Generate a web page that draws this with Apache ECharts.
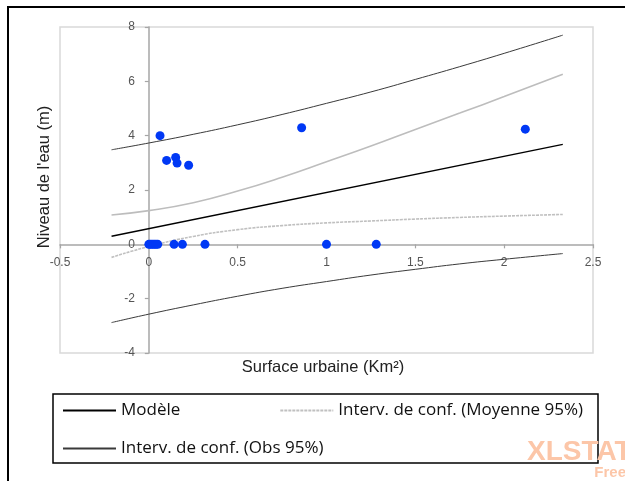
<!DOCTYPE html>
<html>
<head>
<meta charset="utf-8">
<script src="https://cdn.jsdelivr.net/npm/echarts@6/dist/echarts.min.js"></script>
<style>
  html, body { margin: 0; padding: 0; background: #fff; }
  #chart { width: 625px; height: 481px; }
</style>
</head>
<body>
<div id="chart"></div>
<script>
// ---- Data ----
const pointsX = [0, 0.01, 0.02, 0.03, 0.04, 0.05, 0.142, 0.189, 0.316, 1.0, 1.28, 0.063, 0.10, 0.151, 0.159, 0.224, 0.86, 2.119];
const pointsY = [0, 0, 0, 0, 0, 0, 0, 0, 0, 0, 0, 4.0, 3.09, 3.20, 2.99, 2.91, 4.29, 4.24];

const modelX = [-0.21, 2.33];
const modelY = [0.30, 3.68];

const bandX = [-0.21, 0, 0.25, 0.5, 0.75, 1.0, 1.25, 1.5, 1.75, 2.0, 2.33];
const meanUpper = [1.08, 1.24, 1.53, 1.96, 2.47, 3.04, 3.62, 4.23, 4.83, 5.44, 6.26];
const meanLower = [-0.48, -0.08, 0.29, 0.54, 0.69, 0.79, 0.86, 0.93, 0.99, 1.04, 1.10];
const obsUpper = [3.48, 3.73, 4.05, 4.40, 4.78, 5.19, 5.61, 6.07, 6.54, 7.03, 7.70];
const obsLower = [-2.88, -2.57, -2.23, -1.91, -1.62, -1.37, -1.13, -0.92, -0.72, -0.55, -0.34];

const xTicks = { min: -0.5, max: 2.5, interval: 0.5 };
const yTicks = { min: -4, max: 8, interval: 2 };

const nameModel = 'Modèle';
const nameMean = 'Interv. de conf. (Moyenne 95%)';
const nameObs = 'Interv. de conf. (Obs 95%)';
const xTitle = 'Surface urbaine (Km²)';
const yTitle = "Niveau de l'eau (m)";

// ---- Build ----
const zip = (xs, ys) => xs.map((x, i) => [x, ys[i]]);

const W = 625, H = 481;
const G = { left: 60, top: 27, right: 32, bottom: 128 };
const gw = W - G.left - G.right, gh = H - G.top - G.bottom;
// put each axis through the other axis's zero, labels included
const yAxisOffset = -gw * (0 - xTicks.min) / (xTicks.max - xTicks.min);
const xAxisOffset = -gh * (0 - yTicks.min) / (yTicks.max - yTicks.min);

const chart = echarts.init(document.getElementById('chart'), null, { renderer: 'canvas' });

const axisLabelStyle = { color: '#555', fontFamily: 'Liberation Sans', fontSize: 12 };
const legendText = { color: '#111', fontFamily: 'Open Sans', fontSize: 17 };

chart.setOption({
  animation: false,
  backgroundColor: '#fff',
  grid: Object.assign({
    show: true, borderColor: '#d9d9d9', borderWidth: 1.5, backgroundColor: 'transparent'
  }, G),
  xAxis: {
    type: 'value', min: xTicks.min, max: xTicks.max, interval: xTicks.interval,
    position: 'bottom', offset: xAxisOffset,
    axisLine: { onZero: false, lineStyle: { color: '#a6a6a6', width: 1.5 } },
    axisTick: { show: true, length: 4, lineStyle: { color: '#a6a6a6', width: 1.2 } },
    axisLabel: Object.assign({ margin: 12 }, axisLabelStyle),
    splitLine: { show: false }
  },
  yAxis: {
    type: 'value', min: yTicks.min, max: yTicks.max, interval: yTicks.interval,
    position: 'left', offset: yAxisOffset,
    axisLine: { onZero: false, lineStyle: { color: '#a6a6a6', width: 1.5 } },
    axisTick: { show: true, length: 4, lineStyle: { color: '#a6a6a6', width: 1.2 } },
    axisLabel: Object.assign({ margin: 14 }, axisLabelStyle),
    splitLine: { show: false }
  },
  legend: [
    {
      data: [nameModel, nameMean], left: 62, top: 402, padding: 0,
      itemWidth: 53, itemHeight: 10, itemGap: 99,
      itemStyle: { opacity: 0 },
      selectedMode: false, textStyle: legendText
    },
    {
      data: [nameObs], left: 62, top: 440, padding: 0,
      itemWidth: 53, itemHeight: 10,
      itemStyle: { opacity: 0 },
      selectedMode: false, textStyle: legendText
    }
  ],
  graphic: [
    { type: 'rect', shape: { x: 8, y: 7, width: 700, height: 600 }, style: { fill: 'none', stroke: '#000', lineWidth: 2 }, silent: true },
    { type: 'rect', shape: { x: 53, y: 394, width: 545, height: 69 }, style: { fill: 'none', stroke: '#000', lineWidth: 1.5 }, silent: true },
    { type: 'text', x: 323, y: 367, style: { text: xTitle, fontFamily: 'Liberation Sans', fontSize: 16.5, fill: '#222', textAlign: 'center', textVerticalAlign: 'middle' } },
    { type: 'text', x: 44, y: 177, rotation: Math.PI / 2, style: { text: yTitle, fontFamily: 'Liberation Sans', fontSize: 16.5, fill: '#222', textAlign: 'center', textVerticalAlign: 'middle' } },
    { type: 'text', x: 527, y: 452, style: { text: 'XLSTAT', fontFamily: 'Liberation Sans', fontWeight: 'bold', fontSize: 28, fill: '#fcc6a8', textAlign: 'left', textVerticalAlign: 'middle' } },
    { type: 'text', x: 626, y: 473, style: { text: 'Free', fontFamily: 'Liberation Sans', fontWeight: 'bold', fontSize: 15, fill: '#fcc6a8', textAlign: 'right', textVerticalAlign: 'middle' } }
  ],
  series: [
    {
      name: nameObs, type: 'line', data: zip(bandX, obsUpper), smooth: true, symbol: 'none',
      lineStyle: { color: '#3a3a3a', width: 1 }, itemStyle: { color: '#3a3a3a' }, z: 2
    },
    {
      name: nameObs, type: 'line', data: zip(bandX, obsLower), smooth: true, symbol: 'none',
      lineStyle: { color: '#3a3a3a', width: 1 }, itemStyle: { color: '#3a3a3a' }, z: 2
    },
    {
      name: nameMean, type: 'line', data: zip(bandX, meanLower), smooth: true, symbol: 'none',
      lineStyle: { color: '#c0c0c0', width: 1.6, type: [3, 1] }, itemStyle: { color: '#c0c0c0' }, z: 2
    },
    {
      name: nameMean, type: 'line', data: zip(bandX, meanUpper), smooth: true, symbol: 'none',
      lineStyle: { color: '#bdbdbd', width: 1.6 }, itemStyle: { color: '#bdbdbd' }, z: 2
    },
    {
      name: nameModel, type: 'line', data: zip(modelX, modelY), symbol: 'none',
      lineStyle: { color: '#000', width: 1.5 }, itemStyle: { color: '#000' }, z: 3
    },
    {
      name: 'Observations', type: 'scatter', data: zip(pointsX, pointsY),
      symbol: 'circle', symbolSize: 9, itemStyle: { color: '#0038f5', opacity: 1 }, z: 5
    }
  ]
});
</script>
</body>
</html>
